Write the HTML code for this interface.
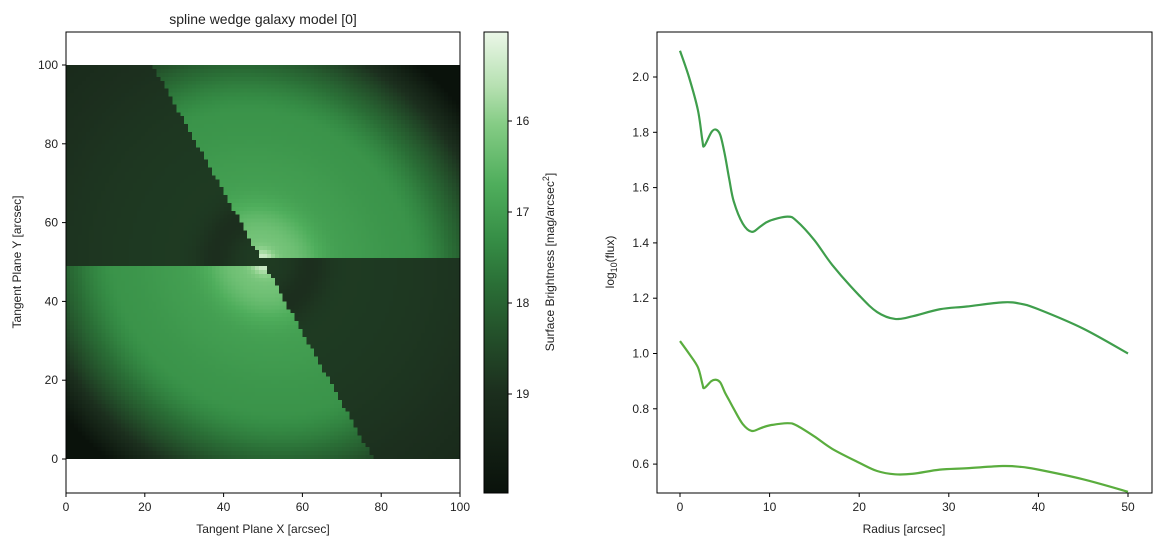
<!DOCTYPE html>
<html><head><meta charset="utf-8">
<style>
body{margin:0;background:#fff;font-family:"Liberation Sans",sans-serif;}
svg text{font-family:"Liberation Sans",sans-serif;fill:#222;}
</style></head>
<body>
<svg id="s" width="1160" height="547" viewBox="0 0 1160 547" xmlns="http://www.w3.org/2000/svg">
<defs>
<linearGradient id="cb" x1="0" y1="0" x2="0" y2="1">
<stop offset="0" stop-color="#ebf7e8"/><stop offset="0.12" stop-color="#b5e0b0"/>
<stop offset="0.2" stop-color="#85cc85"/><stop offset="0.33" stop-color="#4fae5c"/>
<stop offset="0.45" stop-color="#368e46"/><stop offset="0.55" stop-color="#2a6e36"/>
<stop offset="0.65" stop-color="#24522b"/><stop offset="0.78" stop-color="#1c2f1e"/>
<stop offset="1" stop-color="#0a120b"/>
</linearGradient>
</defs>
<text x="263" y="24" font-size="14" text-anchor="middle">spline wedge galaxy model [0]</text>
<foreignObject x="66" y="65" width="394" height="394"><canvas xmlns="http://www.w3.org/1999/xhtml" id="cv" width="100" height="100" style="width:394px;height:394px;image-rendering:pixelated;display:block"></canvas></foreignObject>
<rect x="66" y="32" width="394" height="461" fill="none" stroke="#000" stroke-width="1"/>
<g id="lax"></g>
<text x="263" y="533" font-size="12" text-anchor="middle">Tangent Plane X [arcsec]</text>
<text transform="translate(21,262) rotate(-90)" font-size="12" text-anchor="middle">Tangent Plane Y [arcsec]</text>
<rect x="484" y="32" width="24" height="461" fill="url(#cb)" stroke="#000" stroke-width="1"/>
<g id="cbt"></g>
<text transform="translate(554,262) rotate(-90)" font-size="12" text-anchor="middle">Surface Brightness [mag/arcsec<tspan dy="-5" font-size="9">2</tspan><tspan dy="5">]</tspan></text>
<rect x="657" y="32" width="495" height="461" fill="none" stroke="#000" stroke-width="1"/>
<g id="rax"></g>
<text x="904" y="533" font-size="12" text-anchor="middle">Radius [arcsec]</text>
<text transform="translate(614,262) rotate(-90)" font-size="12" text-anchor="middle">log<tspan font-size="9" dy="3">10</tspan><tspan dy="-3">(flux)</tspan></text>
<g id="lines"></g>
</svg>
<script>
const radius=[0,1,2,2.5,2.7,3.5,4,4.5,5,5.5,6,7,8,9,10,12,13,15,17,20,22,24,26,29,32,36,38,40,45,50];
const fluxUpper=[2.095,2.0,1.88,1.77,1.75,1.80,1.81,1.79,1.72,1.63,1.55,1.47,1.44,1.46,1.48,1.495,1.48,1.41,1.32,1.21,1.15,1.125,1.135,1.16,1.17,1.185,1.18,1.16,1.09,1.0];
const fluxLower=[1.045,1.0,0.95,0.89,0.875,0.90,0.905,0.895,0.86,0.83,0.80,0.745,0.72,0.73,0.74,0.748,0.74,0.70,0.655,0.605,0.575,0.563,0.565,0.58,0.585,0.593,0.59,0.58,0.545,0.5];
const xTicksLeft=[0,20,40,60,80,100];
const yTicksLeft=[0,20,40,60,80,100];
const cbTicks=[16,17,18,19];
const xTicksRight=[0,10,20,30,40,50];
const yTicksRight=[0.6,0.8,1.0,1.2,1.4,1.6,1.8,2.0];
const NS="http://www.w3.org/2000/svg";
const lx=v=>66+v*3.94, ly=v=>459-v*3.94;
const cy=m=>121+(m-16)*91;
const rx=v=>680+v*8.96, ry=v=>77+(2.0-v)/0.2*55.3;
function mk(tag,at,parent,txt){const e=document.createElementNS(NS,tag);for(const k in at)e.setAttribute(k,at[k]);if(txt!==undefined)e.textContent=txt;parent.appendChild(e);return e;}
const lax=document.getElementById('lax'),rax=document.getElementById('rax'),cbt=document.getElementById('cbt');
xTicksLeft.forEach(v=>{mk('line',{x1:lx(v),x2:lx(v),y1:493,y2:497,stroke:'#000'},lax);const t=mk('text',{x:lx(v),y:511,'font-size':12,'text-anchor':'middle'},lax,v);

});
yTicksLeft.forEach(v=>{mk('line',{x1:62,x2:66,y1:ly(v),y2:ly(v),stroke:'#000'},lax);const t=mk('text',{x:58,y:ly(v)+4,'font-size':12,'text-anchor':'end'},lax,v);

});
cbTicks.forEach(v=>{mk('line',{x1:508,x2:512,y1:cy(v),y2:cy(v),stroke:'#000'},cbt);const t=mk('text',{x:516,y:cy(v)+4,'font-size':12},cbt,v);

});
xTicksRight.forEach(v=>{mk('line',{x1:rx(v),x2:rx(v),y1:493,y2:497,stroke:'#000'},rax);const t=mk('text',{x:rx(v),y:511,'font-size':12,'text-anchor':'middle'},rax,v);

});
yTicksRight.forEach(v=>{mk('line',{x1:653,x2:657,y1:ry(v),y2:ry(v),stroke:'#000'},rax);const t=mk('text',{x:649,y:ry(v)+4,'font-size':12,'text-anchor':'end'},rax,v.toFixed(1));

});
function pathFor(xs,ys){const p=xs.map((x,i)=>[rx(x),ry(ys[i])]);let d='M'+p[0][0]+','+p[0][1];
for(let i=0;i<p.length-1;i++){const p0=p[Math.max(0,i-1)],p1=p[i],p2=p[i+1],p3=p[Math.min(p.length-1,i+2)];
d+=' C'+(p1[0]+(p2[0]-p0[0])/6)+','+(p1[1]+(p2[1]-p0[1])/6)+' '+(p2[0]-(p3[0]-p1[0])/6)+','+(p2[1]-(p3[1]-p1[1])/6)+' '+p2[0]+','+p2[1];}return d;}
const lines=document.getElementById('lines');
const l1=mk('path',{d:pathFor(radius,fluxUpper),fill:'none',stroke:'#3f9e4c','stroke-width':2.2},lines);


const l2=mk('path',{d:pathFor(radius,fluxLower),fill:'none',stroke:'#5aad3e','stroke-width':2.2},lines);


const stops=[[0,[235,247,232]],[0.12,[181,224,176]],[0.2,[133,204,133]],[0.33,[79,174,92]],[0.45,[54,142,70]],[0.55,[42,110,54]],[0.65,[36,82,43]],[0.78,[28,47,30]],[1,[10,18,11]]];
function col(m){let f=(m-15.02)/(20.09-15.02);f=Math.max(0,Math.min(1,f));for(let i=0;i<stops.length-1;i++){if(f<=stops[i+1][0]){const a=stops[i],b=stops[i+1],t=(f-a[0])/(b[0]-a[0]);return a[1].map((c,k)=>Math.round(c+(b[1][k]-c)*t));}}return stops[stops.length-1][1];}
const cv=document.getElementById('cv'),ctx=cv.getContext('2d'),img=ctx.createImageData(100,100);
for(let j=0;j<100;j++)for(let i=0;i<100;i++){const x=i+0.5,y=99.5-j;const dx=x-50,dy=y-50;const r=Math.sqrt(dx*dx+dy*dy);
const u=(dx+dy)/Math.SQRT2,v=(dx-dy)/Math.SQRT2;const R=Math.sqrt(v*v+(u/0.9)*(u/0.9));
let bright=false;
if(y>50.5&&x>50-(y-50)*28/50)bright=true;
if(y<49.5&&x<50+(50-y)*28/50)bright=true;
let m;
if(bright){m=17.0+0.3*Math.pow(R/50,2)-1.0*Math.exp(-Math.pow(R/14,2))-0.9*Math.exp(-Math.pow(R/3,2))+0.15*Math.sin(R/2.5)*Math.exp(-R/12)+(R>40?Math.pow((R-40)/30,1.5)*2.4:0);}
else{m=18.75+0.4*Math.pow(r/70,3)+0.25*Math.exp(-Math.pow((r-12)/5,2));}
const c=col(m),k=(j*100+i)*4;img.data[k]=c[0];img.data[k+1]=c[1];img.data[k+2]=c[2];img.data[k+3]=255;}
ctx.putImageData(img,0,0);
</script>
</body></html>
